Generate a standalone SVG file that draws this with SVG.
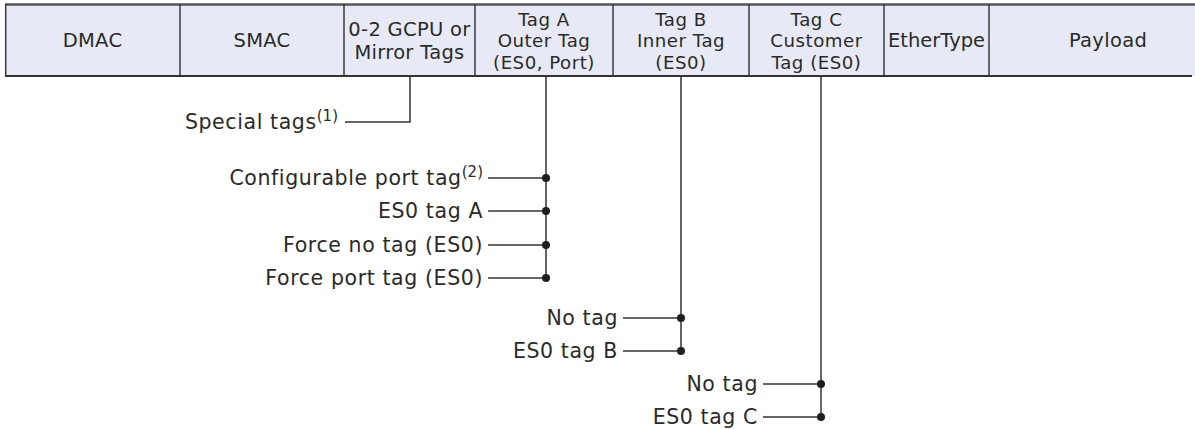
<svg xmlns="http://www.w3.org/2000/svg" width="1195" height="429" viewBox="0 0 1195 429">
<style>
text{font-family:"DejaVu Sans",Verdana,sans-serif;fill:#2a2a2a}
.h{font-size:19.5px;text-anchor:middle;letter-spacing:0.3px}
.m{font-size:18.2px;text-anchor:middle;letter-spacing:0.5px}
.l{font-size:20.5px;text-anchor:end;letter-spacing:0.6px}
.sup{font-size:15px;letter-spacing:0}
.ln{stroke:#333;stroke-width:1.5;fill:none}
.dv{stroke:#3a3a3a;stroke-width:1.5}
.dot{fill:#1f1f1f}
</style>
<rect width="1195" height="429" fill="#fff"/>
<g id="header">
<rect x="5.5" y="4.5" width="1195" height="71.5" fill="#e7eaf6"/>
<line x1="5" y1="4.5" x2="1195" y2="4.5" stroke="#555" stroke-width="2.5"/>
<line x1="5" y1="76" x2="1192" y2="76" stroke="#333" stroke-width="1.8"/>
<line x1="5.7" y1="4" x2="5.7" y2="76.5" class="dv"/>
<line x1="180" y1="4" x2="180" y2="76" class="dv"/>
<line x1="344" y1="4" x2="344" y2="76" class="dv"/>
<line x1="475" y1="4" x2="475" y2="76" class="dv"/>
<line x1="613" y1="4" x2="613" y2="76" class="dv"/>
<line x1="749" y1="4" x2="749" y2="76" class="dv"/>
<line x1="884" y1="4" x2="884" y2="76" class="dv"/>
<line x1="989" y1="4" x2="989" y2="76" class="dv"/>
</g>
<g id="dmac"><text class="h" x="92.5" y="47">DMAC</text></g>
<g id="smac"><text class="h" x="262" y="47">SMAC</text></g>
<g id="gcpu"><text class="h" x="409.5" y="36">0-2 GCPU or</text><text class="h" x="409.5" y="59">Mirror Tags</text></g>
<g id="tagA"><text class="m" x="544" y="25.5">Tag A</text><text class="m" x="544" y="47">Outer Tag</text><text class="m" x="544" y="68.5">(ES0, Port)</text></g>
<g id="tagB"><text class="m" x="681" y="25.5">Tag B</text><text class="m" x="681" y="47">Inner Tag</text><text class="m" x="681" y="68.5">(ES0)</text></g>
<g id="tagC"><text class="m" x="816.5" y="25.5">Tag C</text><text class="m" x="816.5" y="47">Customer</text><text class="m" x="816.5" y="68.5">Tag (ES0)</text></g>
<g id="ethertype"><text class="h" x="936.5" y="47" style="letter-spacing:0">EtherType</text></g>
<g id="payload"><text class="h" x="1108" y="47">Payload</text></g>
<g id="connectors">
<polyline class="ln" points="345,122 410,122 410,76"/>
<line class="ln" x1="546" y1="76" x2="546" y2="278"/>
<line class="ln" x1="681" y1="76" x2="681" y2="351"/>
<line class="ln" x1="821" y1="76" x2="821" y2="417"/>
<line class="ln" x1="488" y1="178" x2="546" y2="178"/>
<line class="ln" x1="488" y1="211" x2="546" y2="211"/>
<line class="ln" x1="488" y1="245" x2="546" y2="245"/>
<line class="ln" x1="488" y1="278" x2="546" y2="278"/>
<line class="ln" x1="623" y1="318" x2="681" y2="318"/>
<line class="ln" x1="623" y1="351" x2="681" y2="351"/>
<line class="ln" x1="763" y1="384" x2="821" y2="384"/>
<line class="ln" x1="763" y1="417" x2="821" y2="417"/>
<circle class="dot" cx="546" cy="178" r="4"/>
<circle class="dot" cx="546" cy="211" r="4"/>
<circle class="dot" cx="546" cy="245" r="4"/>
<circle class="dot" cx="546" cy="278" r="4"/>
<circle class="dot" cx="681" cy="318" r="4"/>
<circle class="dot" cx="681" cy="351" r="4"/>
<circle class="dot" cx="821" cy="384" r="4"/>
<circle class="dot" cx="821" cy="417" r="4"/>
</g>
<g id="special"><text class="l" x="338" y="129">Special tags<tspan class="sup" dy="-8">(1)</tspan></text></g>
<g id="config"><text class="l" x="483" y="185">Configurable port tag<tspan class="sup" dy="-8">(2)</tspan></text></g>
<g id="es0a"><text class="l" x="483" y="218">ES0 tag A</text></g>
<g id="forceno"><text class="l" x="483" y="252">Force no tag (ES0)</text></g>
<g id="forceport"><text class="l" x="483" y="285">Force port tag (ES0)</text></g>
<g id="notagb"><text class="l" x="618" y="325">No tag</text></g>
<g id="es0b"><text class="l" x="618" y="358">ES0 tag B</text></g>
<g id="notagc"><text class="l" x="758" y="391">No tag</text></g>
<g id="es0c"><text class="l" x="758" y="424">ES0 tag C</text></g>
</svg>
